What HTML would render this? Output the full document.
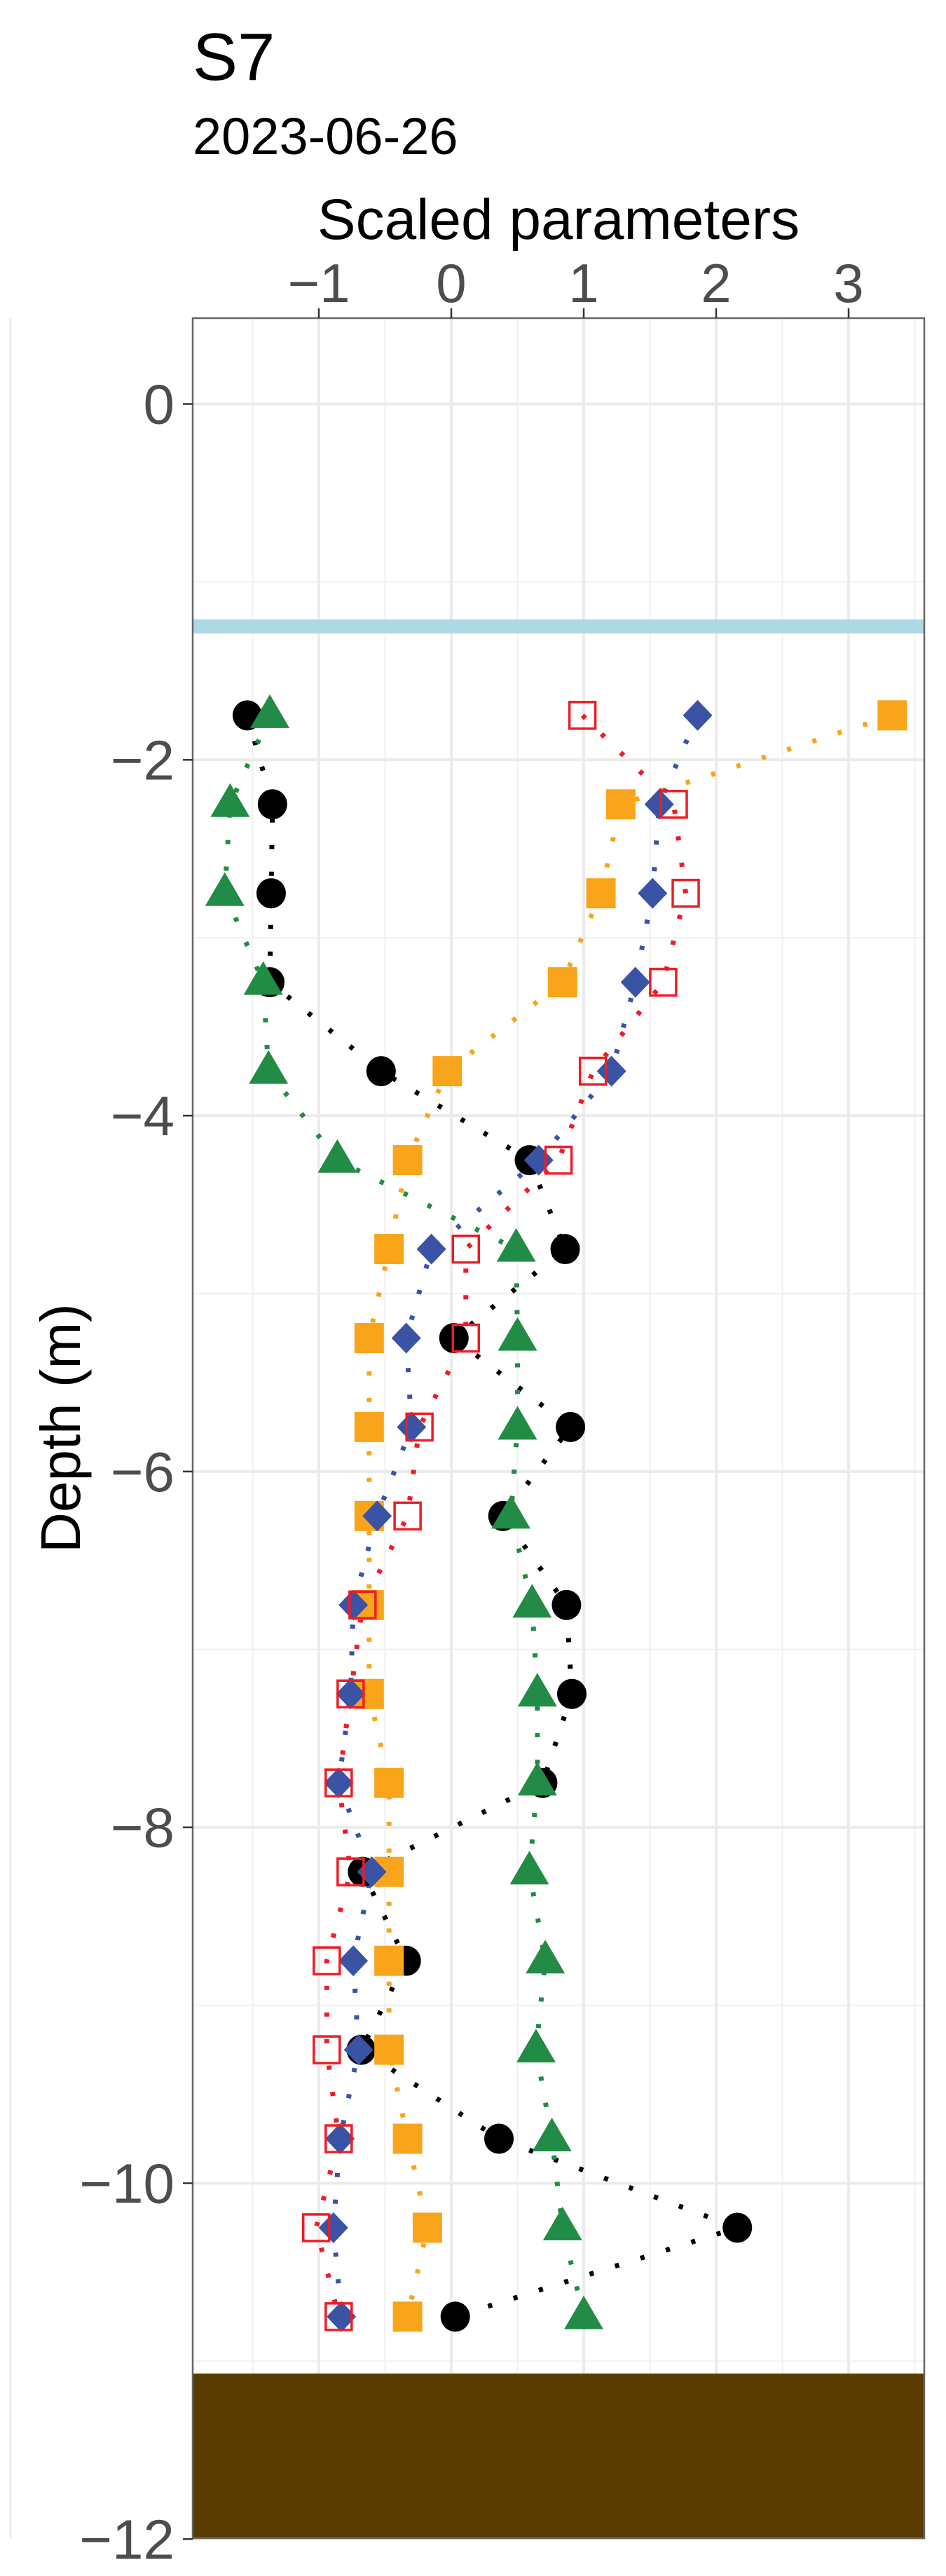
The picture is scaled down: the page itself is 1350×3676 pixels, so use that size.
<!DOCTYPE html>
<html><head><meta charset="utf-8"><style>
html,body{margin:0;padding:0;background:#fff;}
svg{display:block;}
</style></head><body>
<svg id="chart" width="1350" height="3676" xmlns="http://www.w3.org/2000/svg" font-family="Liberation Sans, Arial, sans-serif">
<rect x="0" y="0" width="1350" height="3676" fill="#fff"/>
<line x1="15" y1="454" x2="15" y2="3622" stroke="#ebebeb" stroke-width="3"/>
<text x="275" y="114" font-size="96" fill="#000">S7</text>
<text x="275" y="220" font-size="74" fill="#000">2023-06-26</text>
<text x="797" y="341" font-size="82" fill="#000" text-anchor="middle">Scaled parameters</text>
<text transform="translate(114,2038) rotate(-90)" font-size="80" fill="#000" text-anchor="middle">Depth (m)</text>
<g id="grid"></g>
<g id="layers"></g>
<g id="series"></g>
<g id="axes"></g>
</svg>
<script>
const depths = [-1.75,-2.25,-2.75,-3.25,-3.75,-4.25,-4.75,-5.25,-5.75,-6.25,-6.75,-7.25,-7.75,-8.25,-8.75,-9.25,-9.75,-10.25,-10.75];
const blackValues = [-1.54,-1.35,-1.36,-1.37,-0.53,0.59,0.86,0.02,0.90,0.39,0.87,0.91,0.69,-0.67,-0.34,-0.68,0.36,2.16,0.03];
const greenValues = [-1.37,-1.67,-1.71,-1.42,-1.38,-0.86,0.49,0.50,0.50,0.45,0.61,0.65,0.65,0.59,0.71,0.64,0.76,0.84,1.00];
const orangeValues = [3.33,1.28,1.13,0.84,-0.03,-0.33,-0.47,-0.62,-0.62,-0.62,-0.62,-0.62,-0.47,-0.47,-0.47,-0.47,-0.33,-0.18,-0.33];
const blueValues = [1.86,1.57,1.52,1.39,1.21,0.66,-0.15,-0.34,-0.30,-0.56,-0.74,-0.76,-0.85,-0.60,-0.74,-0.70,-0.84,-0.89,-0.83];
const redValues = [0.99,1.68,1.77,1.60,1.07,0.81,0.11,0.11,-0.24,-0.33,-0.67,-0.76,-0.85,-0.76,-0.94,-0.94,-0.85,-1.02,-0.85];
const xTicks = [-1,0,1,2,3];
const yTicks = [0,-2,-4,-6,-8,-10,-12];
const waterLevel = [-1.25];
const sedimentTop = [-11.07];

const NS = "http://www.w3.org/2000/svg";
const PL = 275, PR = 1319, PT = 454, PB = 3622;
const X = v => 644 + 189 * v;
const Y = d => 576.5 - 253.9 * d;
function mk(tag, attrs, parent){const e=document.createElementNS(NS,tag);for(const k in attrs)e.setAttribute(k,attrs[k]);parent.appendChild(e);return e;}

const grid = document.getElementById('grid');
mk('rect',{x:PL,y:PT,width:PR-PL,height:PB-PT,fill:'#fff'},grid);
for(let v=-1.5; v<=3.6; v+=1){ const l=mk('line',{x1:X(v),x2:X(v),y1:PT,y2:PB,stroke:'#f0f0f0','stroke-width':2},grid);

 }
for(let d=1; d>=-13; d-=2){ if(Y(d)>PT&&Y(d)<PB){ const l=mk('line',{x1:PL,x2:PR,y1:Y(d),y2:Y(d),stroke:'#f0f0f0','stroke-width':2},grid);

 } }
xTicks.forEach(v=>{ const l=mk('line',{x1:X(v),x2:X(v),y1:PT,y2:PB,stroke:'#ebebeb','stroke-width':4},grid);

 });
yTicks.forEach(d=>{ const l=mk('line',{x1:PL,x2:PR,y1:Y(d),y2:Y(d),stroke:'#ebebeb','stroke-width':4},grid);

 });

const layers = document.getElementById('layers');
const w = mk('rect',{x:PL,y:Y(waterLevel[0])-10,width:PR-PL,height:20,fill:'#add8e6'},layers);


const s = mk('rect',{x:PL,y:Y(sedimentTop[0]),width:PR-PL,height:PB-Y(sedimentTop[0]),fill:'#5a3b00'},layers);



const series = document.getElementById('series');
function drawLine(vals,color,name){
  const pts = vals.map((v,i)=>X(v)+','+Y(depths[i])).join(' ');
  const p = mk('polyline',{points:pts,fill:'none',stroke:color,'stroke-width':7,'stroke-dasharray':'6 32'},series);
  
  
}
function drawMarkers(vals,shape,color,name){
  vals.forEach((v,i)=>{
    const cx=X(v), cy=Y(depths[i]); let e;
    if(shape==='circle') e=mk('ellipse',{cx:cx,cy:cy,rx:21,ry:21.5,fill:color},series);
    else if(shape==='square') e=mk('rect',{x:cx-21,y:cy-21.5,width:42,height:43,fill:color},series);
    else if(shape==='triangle') e=mk('polygon',{points:`${cx},${cy-30} ${cx+28},${cy+18} ${cx-28},${cy+18}`,fill:color},series);
    else if(shape==='diamond') e=mk('polygon',{points:`${cx},${cy-22} ${cx+21},${cy} ${cx},${cy+22} ${cx-21},${cy}`,fill:color},series);
    else e=mk('rect',{x:cx-18.5,y:cy-19,width:37,height:38,fill:'none',stroke:color,'stroke-width':3.5},series);
    
    
  });
}
const defs=[[blackValues,'circle','#000000','black-series'],[greenValues,'triangle','#228b45','green-series'],[orangeValues,'square','#f8a51b','orange-series'],[blueValues,'diamond','#3a53a4','blue-series'],[redValues,'opensquare','#ee1c25','red-series']];
defs.forEach(d=>drawLine(d[0],d[2],d[3]));
defs.forEach(d=>drawMarkers(d[0],d[1],d[2],d[3]));

const axes = document.getElementById('axes');
mk('rect',{x:PL,y:PT,width:PR-PL,height:PB-PT,fill:'none',stroke:'#666','stroke-width':2.5},axes);
xTicks.forEach(v=>{
  mk('line',{x1:X(v),x2:X(v),y1:PT-14,y2:PT,stroke:'#333','stroke-width':2.5},axes);
  const t=mk('text',{x:X(v),y:431,'font-size':78,fill:'#4d4d4d','text-anchor':'middle'},axes);
  t.textContent = v<0 ? '\u2212'+Math.abs(v) : String(v);
  
  
});
yTicks.forEach(d=>{
  mk('line',{x1:PL-14,x2:PL,y1:Y(d),y2:Y(d),stroke:'#333','stroke-width':2.5},axes);
  const t=mk('text',{x:249,y:Y(d)+28,'font-size':80,fill:'#4d4d4d','text-anchor':'end'},axes);
  t.textContent = d<0 ? '\u2212'+Math.abs(d) : String(d);
  
  
});
</script>
</body></html>
